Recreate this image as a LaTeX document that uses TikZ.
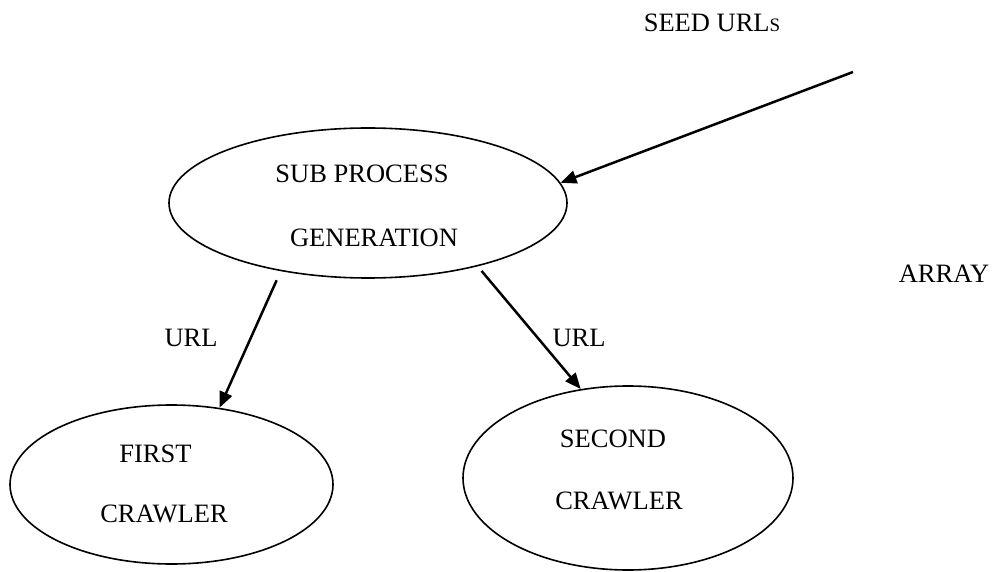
\documentclass[tikz,border=0pt]{standalone}
\usepackage{fontspec}
\setmainfont{Liberation Serif}
\usetikzlibrary{shapes.geometric,arrows.meta}

\begin{document}
\begin{tikzpicture}[x=1pt,y=-1pt,
  bubble/.style={draw,ellipse,line width=1.6pt,inner sep=0pt},
  lbl/.style={anchor=base,inner sep=0pt,font=\fontsize{26.5}{30}\selectfont},
  flow/.style={line width=2.5pt,-{Triangle[length=16pt,width=13pt]}}
]
\useasboundingbox (0,0) rectangle (1005,572);

% ellipses
\node[bubble,minimum width=398pt,minimum height=150pt] (gen) at (368,203) {};
\node[bubble,minimum width=323pt,minimum height=159pt] (first) at (171.5,484.5) {};
\node[bubble,minimum width=330pt,minimum height=184pt] (second) at (628,478) {};

% texts
\node[lbl] (seedtxt) at (712,32) {SEED URL{\fontsize{19}{20}\selectfont S}};
\node[lbl] (arraytxt) at (944,283) {ARRAY};
\node[lbl] (gen1) at (362,183) {SUB PROCESS};
\node[lbl] (gen2) at (374,247) {GENERATION};
\node[lbl] (urlA) at (191,346) {URL};
\node[lbl] (urlB) at (579,346) {URL};
\node[lbl] (first1) at (155.5,462) {FIRST};
\node[lbl] (first2) at (164,522) {CRAWLER};
\node[lbl] (second1) at (613,447) {SECOND};
\node[lbl] (second2) at (619,509) {CRAWLER};

% connectors
\coordinate (seed) at (853,72);
\draw[flow] (seed) -- (gen.6.3);
\draw[flow,shorten <=10pt] (gen.218.3) -- (first.58);
\draw[flow,shorten <=6pt] (gen.330.8) -- (second.118.6);
\end{tikzpicture}
\end{document}
